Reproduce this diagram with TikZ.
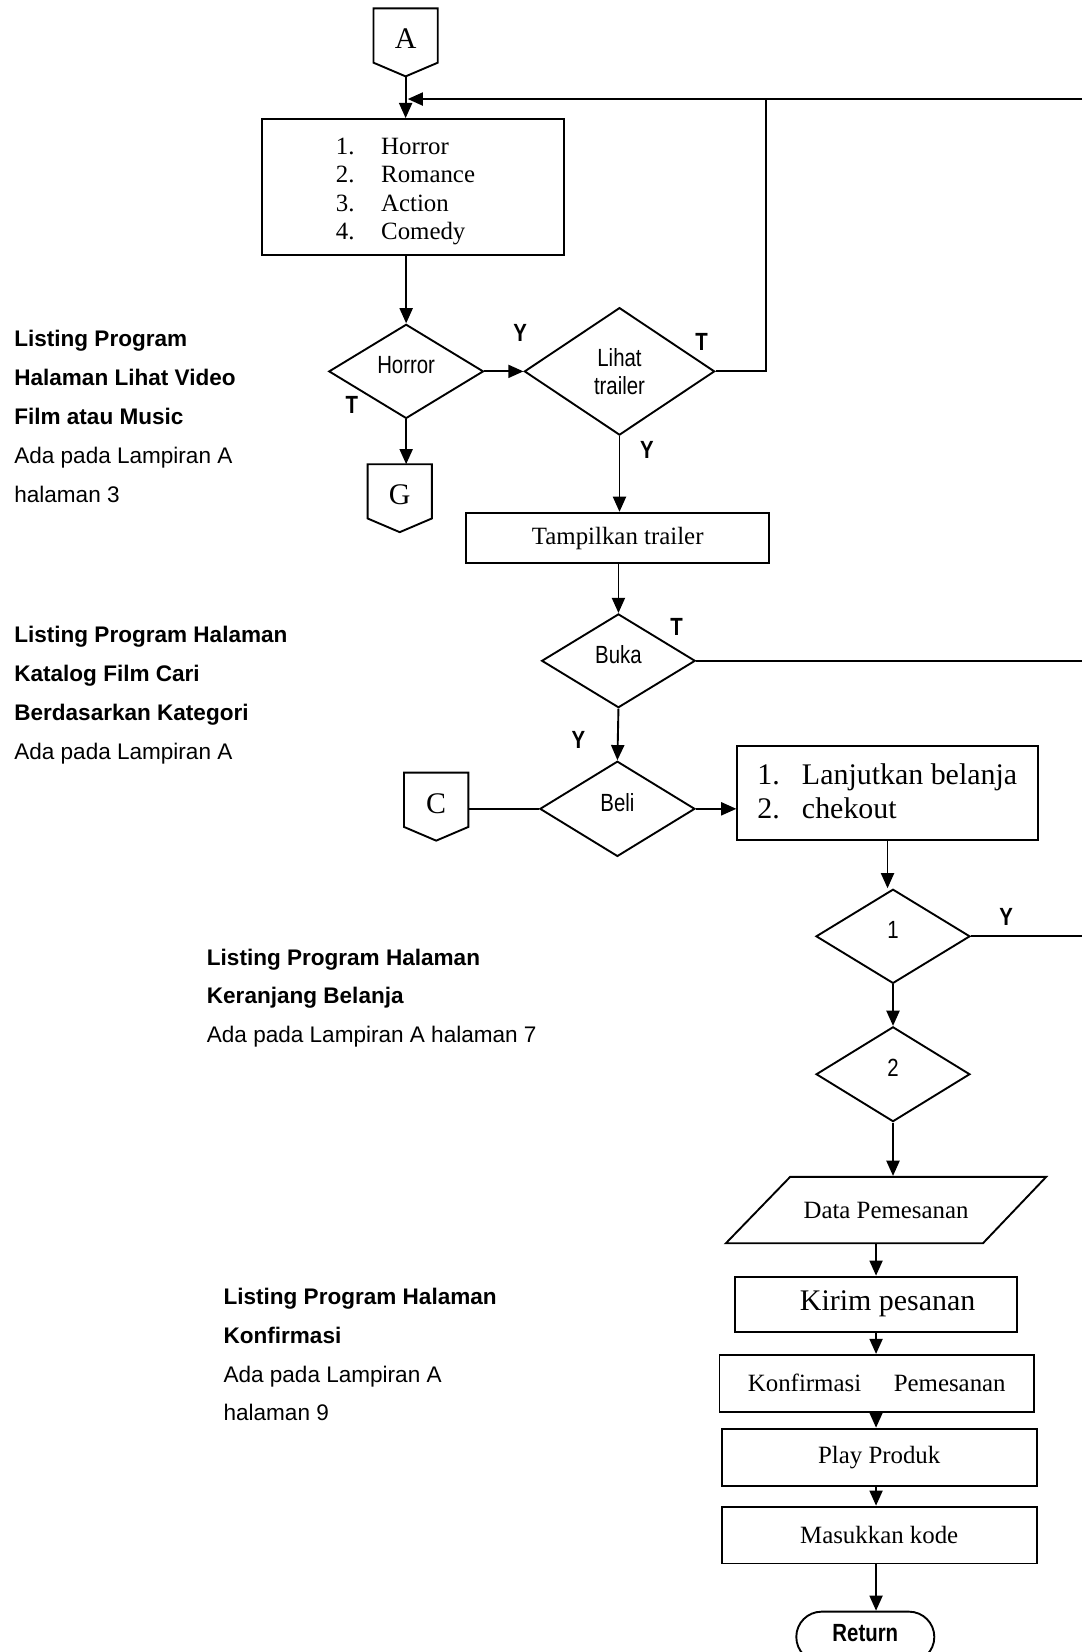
\documentclass[tikz,border=0pt]{standalone}
\usepackage{fontspec}
\setmainfont{Liberation Serif}
\newfontfamily\arialfont{Liberation Sans}
\newfontfamily\narrowfont[FakeStretch=0.82]{Liberation Sans}
\usetikzlibrary{shapes.geometric,shapes.misc,arrows.meta}

% konektor halaman lain: nama, x, y atas, huruf
\newcommand{\offpage}[4]{%
  \draw (#2-30.5,#3) -- (#2+30.5,#3) -- (#2+30.5,#3+51.5) -- (#2,#3+64.5) -- (#2-30.5,#3+51.5) -- cycle;
  \node[huruf] (#1) at (#2,#3+29) {#4};
  \coordinate (#1-top) at (#2,#3);
  \coordinate (#1-tip) at (#2,#3+64.5);
  \coordinate (#1-right) at (#2+30.5,#3+35);
}

\begin{document}
\begin{tikzpicture}[>={Triangle[length=7.2pt,width=6.2pt]}, x=0.5pt, y=-0.5pt, line width=0.9pt,
        proses/.style={draw, rectangle, inner sep=0pt},
        keputusan/.style={draw, diamond, inner sep=0pt, font=\narrowfont\fontsize{11.8}{13.3}\selectfont},
        satu/.style={text depth=6pt},
        huruf/.style={inner sep=0pt, font=\fontsize{14.2}{16}\selectfont},
        kecil/.style={font=\fontsize{11.8}{13.5}\selectfont},
        besar/.style={font=\fontsize{14.2}{16}\selectfont},
        yt/.style={inner sep=0pt, font=\narrowfont\bfseries\fontsize{11.8}{14}\selectfont},
        catatan/.style={anchor=base west, inner sep=0pt, align=left, font=\arialfont\fontsize{10.7}{18.45}\selectfont}]    % titik acuan = baris terakhir
        \useasboundingbox (0,0) rectangle (1027,1568);

        \offpage{konA}{385}{8}{A}
        \offpage{konG}{379.4}{440.6}{G}
        \offpage{konC}{414}{733.4}{C}

        \node[proses, minimum width=143.5pt, minimum height=64.5pt] (kategori) at (391.9,177.5) {};
        \node[kecil, anchor=west, inner sep=0pt] (kategoriisi) at (318,181.5) {\begin{tabular}{@{}l@{\hspace{12.6pt}}l@{}}1.&Horror\\2.&Romance\\3.&Action\\4.&Comedy\end{tabular}};
        \node[keputusan, satu, minimum width=73.4pt, minimum height=44.7pt] (horror) at (385.5,352.5) {Horror};
        \node[keputusan, align=center, minimum width=90.3pt, minimum height=60.5pt] (lihat) at (588,352.5) {Lihat\\trailer};
        \node[proses, kecil, minimum width=143.8pt, minimum height=24pt] (tampil) at (586.3,510.7) {Tampilkan trailer};
        \node[keputusan, satu, minimum width=72.9pt, minimum height=44.5pt] (buka) at (587,627.2) {Buka};
        \node[keputusan, satu, minimum width=73.6pt, minimum height=45.2pt] (beli) at (586,767.7) {Beli};
        \node[proses, minimum width=142.6pt, minimum height=44.8pt] (belanja) at (842.4,752.5) {};
        \node[besar, anchor=west, inner sep=0pt] (belanjaisi) at (718,754.5) {\begin{tabular}{@{}l@{\hspace{10.5pt}}l@{}}1.&Lanjutkan belanja\\2.&chekout\end{tabular}};
        \node[keputusan, satu, minimum width=73.1pt, minimum height=44.7pt] (pil1) at (847.6,888.7) {1};
        \node[keputusan, satu, minimum width=73pt, minimum height=45pt] (pil2) at (847.6,1019.6) {2};
        \node[kecil, inner sep=0pt, minimum height=31.5pt] (data) at (841,1148.5) {Data Pemesanan};
        \draw (750,1117) -- (993,1117) -- (933,1180) -- (689,1180) -- cycle;    % data masukan
        \node[proses, besar, minimum width=134pt, minimum height=26.2pt] (kirim) at (831.5,1237.9) {\hspace*{11pt}Kirim pesanan};
        \node[proses, kecil, minimum width=149.3pt, minimum height=27pt] (konfirmasi) at (832.2,1313) {Konfirmasi\hspace{15.5pt}Pemesanan};
        \node[proses, kecil, minimum width=149.5pt, minimum height=27pt] (play) at (834.5,1383) {Play Produk};
        \node[proses, kecil, minimum width=149.5pt, minimum height=27pt] (kode) at (834.5,1457) {Masukkan kode};
        \node[draw, rounded rectangle, inner sep=0pt, text depth=4pt, minimum width=65.5pt, minimum height=24pt, font=\narrowfont\bfseries\fontsize{11.8}{14}\selectfont] (kembali) at (821.3,1553.7) {Return};

        \coordinate (tepi) at (1027,0);    % tepi kanan
        \coordinate (tepiA) at (1027,94);
        \coordinate (belok) at (727,94);
        \coordinate (masukA) at (387,94);

        \draw[->] (konA-tip) -- (konA-tip |- kategori.north);
        \draw[->] (tepiA) -- (masukA);
        \draw (lihat.east) -| (belok);
        \draw[->] (horror.north |- kategori.south) -- (horror.north);
        \draw[->] (horror.east) -- (lihat.west);
        \draw[->] (horror.south) -- (horror.south |- konG-top);
        \draw[->] (lihat.south) -- (lihat.south |- tampil.north);
        \draw[->] (buka.north |- tampil.south) -- (buka.north);
        \draw (buka.east) -- (buka.east -| tepi);
        \draw[->] (buka.south) -- (beli.north);
        \draw (konC-right |- beli.west) -- (beli.west);
        \draw[->] (beli.east) -- (beli.east -| belanja.west);
        \draw[->] (belanja.south) -- (belanja.south |- pil1.north);
        \draw (pil1.east) -- (pil1.east -| tepi);
        \draw[->] (pil1.south) -- (pil2.north);
        \draw[->] (pil2.south) -- (pil2.south |- data.north);
        \draw[->] (kirim.north |- data.south) -- (kirim.north);
        \draw[->] (kirim.south) -- (kirim.south |- konfirmasi.north);
        \draw[->] (kirim.south |- konfirmasi.south) -- (kirim.south |- play.north);
        \draw[->] (kirim.south |- play.south) -- (kirim.south |- kode.north);
        \draw[->] (kirim.south |- kode.south) -- (kirim.south |- kembali.north);

        \node[yt] (y1) at (493.6,316) {Y};
        \node[yt] (t1) at (666,324.5) {T};
        \node[yt] (t2) at (334,384.4) {T};
        \node[yt] (y2) at (614,427) {Y};
        \node[yt] (t3) at (642.3,594.8) {T};
        \node[yt] (y3) at (549,702.4) {Y};
        \node[yt] (y4) at (955,870) {Y};

        \node[catatan] (lst1) at (12.7,476.6) {\textbf{Listing Program}\\\textbf{Halaman Lihat Video}\\\textbf{Film atau Music}\\Ada pada Lampiran A\\halaman 3};
        \node[catatan] (lst2) at (12.7,720.7) {\textbf{Listing Program Halaman}\\\textbf{Katalog Film Cari}\\\textbf{Berdasarkan Kategori}\\Ada pada Lampiran A};
        \node[catatan] (lst3) at (195.5,989.8) {\textbf{Listing Program Halaman}\\\textbf{Keranjang Belanja}\\Ada pada Lampiran A halaman 7};
        \node[catatan] (lst4) at (211.3,1348.7) {\textbf{Listing Program Halaman}\\\textbf{Konfirmasi}\\Ada pada Lampiran A\\halaman 9};
\end{tikzpicture}
\end{document}
